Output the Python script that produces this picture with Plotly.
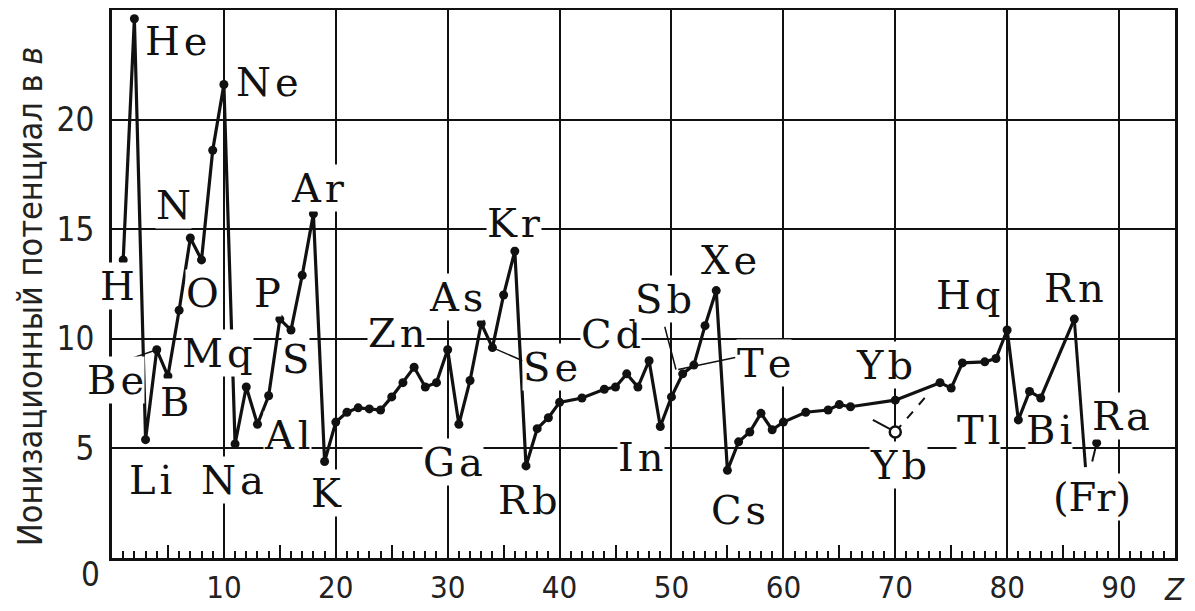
import plotly.graph_objects as go

# ---- data (first ionisation potential, volts) ----
Z = [1, 2, 3, 4, 5, 6, 7, 8, 9, 10,
     11, 12, 13, 14, 15, 16, 17, 18, 19, 20,
     21, 22, 23, 24, 25, 26, 27, 28, 29, 30,
     31, 32, 33, 34, 35, 36, 37, 38, 39, 40,
     42, 44, 45, 46, 47, 48, 49, 50, 51, 52,
     53, 54, 55, 56, 57, 58, 59, 60, 62, 64,
     65, 66, 70, 74, 75, 76, 78, 79, 80, 81,
     82, 83, 86]
IP = [13.6, 24.6, 5.4, 9.5, 8.3, 11.3, 14.6, 13.6, 18.6, 21.6,
      5.2, 7.8, 6.1, 7.4, 10.9, 10.4, 12.9, 15.7, 4.4, 6.2,
      6.65, 6.85, 6.8, 6.75, 7.35, 8.0, 8.7, 7.8, 8.0, 9.5,
      6.1, 8.1, 10.7, 9.6, 12.0, 14.0, 4.2, 5.9, 6.4, 7.1,
      7.3, 7.7, 7.8, 8.4, 7.8, 9.0, 6.0, 7.35, 8.4, 8.8,
      10.6, 12.2, 4.0, 5.3, 5.75, 6.6, 5.85, 6.2, 6.65, 6.75,
      7.0, 6.9, 7.2, 8.0, 7.75, 8.9, 8.95, 9.1, 10.4, 6.3,
      7.6, 7.3, 10.9]

FR_Z, FR_IP = 87, 4.15          # (Fr): line from Rn ends here, no dot
RA_Z, RA_IP = 88, 5.25          # Ra
RA_STUB = (87.6, 4.4)           # short stub below Ra
YB_ALT_Z, YB_ALT_IP = 70, 5.75  # Yb, alternative value (open circle)
YB_LEFT = (68, 6.3)             # solid arm to the open circle
YB_RIGHT = (72.8, 7.4)          # dashed arm from the open circle

X_TICKS = [10, 20, 30, 40, 50, 60, 70, 80, 90]
X_MID_TICKS = [5, 15, 25, 35, 45, 55, 65, 75, 85]
Y_TICKS = [0, 5, 10, 15, 20]
Y_TICKTEXT = ["", "5", "10", "15", "20"]   # "0" is set slightly below the axis, as in the original

HS = "\u200a"
LABELS = [
    ("He", 5.8, 23.6), ("Ne", 13.9, 21.7), ("N", 5.5, 16.1), ("Ar", 18.4, 16.9),
    ("H", 0.45, 12.4), ("O", 8.1, 12.1), ("P", 13.9, 12.1), ("Mq", 9.4, 9.35),
    ("S", 16.4, 9.1), ("Be", 0.3, 8.1), ("B", 5.6, 7.1), ("Al", 15.7, 5.6),
    ("Li", 3.4, 3.55), ("Na", 10.8, 3.55), ("K", 19.2, 2.95),
    ("Zn", 25.5, 10.25), ("As", 30.7, 11.9), ("Kr", 35.9, 15.3), ("Se", 39.2, 8.7),
    ("Ga", 30.5, 4.4), ("Rb", 37.2, 2.65), ("Cd", 44.6, 10.2), ("In", 47.3, 4.6),
    ("Sb", 49.3, 11.8), ("Xe", 55.1, 13.6), ("Te", 58.3, 8.9), ("Cs", 56.0, 2.2),
    ("Yb", 69.0, 8.8), ("Yb", 70.3, 4.25), ("Hq", 76.5, 12.0), ("Rn", 86.0, 12.3),
    ("Tl", 77.4, 5.85), ("Bi", 83.7, 5.85), ("Ra", 90.2, 6.5), ("(Fr)", 87.6, 2.8),
]
LEADERS = [
    ((1.4, 9.05), (4, 9.5)),      # Be
    ((34, 9.6), (36.7, 9.0)),     # Se
    ((49.4, 10.55), (50.4, 8.6)), # Sb
    ((50.6, 8.6), (55.7, 9.15)),  # Te
]

INK = "#111111"
SERIF = "DejaVu Serif, Liberation Serif, serif"
NARROW = "Liberation Sans Narrow, Arial Narrow, DejaVu Sans Condensed, Roboto, sans-serif"

fig = go.Figure()

for (x0, y0), (x1, y1) in LEADERS:
    fig.add_trace(go.Scatter(x=[x0, x1], y=[y0, y1], mode="lines",
                             line=dict(color=INK, width=1.5),
                             showlegend=False, hoverinfo="skip"))

fig.add_trace(go.Scatter(x=Z, y=IP, mode="lines+markers",
                         line=dict(color=INK, width=3.2),
                         marker=dict(color=INK, size=9),
                         showlegend=False))
fig.add_trace(go.Scatter(x=[Z[-1], FR_Z], y=[IP[-1], FR_IP], mode="lines",
                         line=dict(color=INK, width=3), showlegend=False))
fig.add_trace(go.Scatter(x=[RA_STUB[0], RA_Z], y=[RA_STUB[1], RA_IP], mode="lines",
                         line=dict(color=INK, width=2), showlegend=False))
fig.add_trace(go.Scatter(x=[RA_Z], y=[RA_IP], mode="markers",
                         marker=dict(color=INK, size=9), showlegend=False))
fig.add_trace(go.Scatter(x=[YB_LEFT[0], YB_ALT_Z], y=[YB_LEFT[1], YB_ALT_IP], mode="lines",
                         line=dict(color=INK, width=2), showlegend=False))
fig.add_trace(go.Scatter(x=[YB_ALT_Z, YB_RIGHT[0]], y=[YB_ALT_IP, YB_RIGHT[1]], mode="lines",
                         line=dict(color=INK, width=2, dash="dash"), showlegend=False))
fig.add_trace(go.Scatter(x=[YB_ALT_Z], y=[YB_ALT_IP], mode="markers",
                         marker=dict(color="white", size=11, symbol="circle",
                                     line=dict(color=INK, width=2.5)),
                         showlegend=False))
fig.add_trace(go.Scatter(x=[Z[0]], y=[IP[0]], mode="markers", xaxis="x2",
                         marker=dict(opacity=0), showlegend=False, hoverinfo="skip"))

annotations = []
for text, x, y in LABELS:
    annotations.append(dict(x=x, y=y, xref="x", yref="y",
                            text=HS.join(text) if text != "(Fr)" else text,
                            showarrow=False, font=dict(family=SERIF, size=40, color=INK),
                            bgcolor="white", borderpad=0, xanchor="center", yanchor="middle"))
annotations.append(dict(x=0, y=0.476, xref="paper", yref="paper", xshift=-82,
                        text="Ионизационный потенциал в <i>в</i>", textangle=-90,
                        showarrow=False, font=dict(family=NARROW, size=34, color="#222"),
                        xanchor="center", yanchor="middle"))
annotations.append(dict(x=1, y=0, xref="paper", yref="paper", xshift=12, yshift=-31,
                        text="<i>Z</i>", showarrow=False,
                        font=dict(family=NARROW, size=31, color="#222"),
                        xanchor="right", yanchor="middle"))
annotations.append(dict(x=0, y=Y_TICKS[0], xref="paper", yref="y", xshift=-10, yshift=-16,
                        text=str(Y_TICKS[0]), showarrow=False,
                        font=dict(family=NARROW, size=33, color="#222"),
                        xanchor="right", yanchor="middle"))

# page body has an 8px margin: figure is sized so plot area lands at x 112..1175, y 10..558
fig.update_layout(
    width=1179, height=595,
    margin=dict(l=104, r=12, t=2, b=45, autoexpand=False),
    paper_bgcolor="white", plot_bgcolor="white",
    annotations=annotations,
    xaxis=dict(range=[0, 95], tickvals=X_TICKS, ticktext=[str(v) for v in X_TICKS],
               automargin=False,
               showline=True, linewidth=3, linecolor=INK, mirror=True,
               ticks="inside", ticklen=13, tickwidth=1.5, tickcolor=INK,
               showgrid=True, gridcolor=INK, gridwidth=1.6, zeroline=False,
               tickfont=dict(family=NARROW, size=31, color="#222"),
               ticklabelstandoff=0,
               minor=dict(dtick=1, tick0=0, ticks="inside", ticklen=7, tickwidth=1.5,
                          tickcolor=INK, showgrid=False)),
    xaxis2=dict(overlaying="x", matches="x", side="bottom", tickvals=X_MID_TICKS,
                automargin=False,
                ticks="inside", ticklen=13, tickwidth=1.5, tickcolor=INK,
                showticklabels=False, showgrid=False, showline=False, zeroline=False),
    yaxis=dict(range=[0, 25], tickvals=Y_TICKS, ticktext=Y_TICKTEXT,
               automargin=False,
               showline=True, linewidth=3, linecolor=INK, mirror=True,
               ticks="", showgrid=True, gridcolor=INK, gridwidth=1.6, zeroline=False,
               tickfont=dict(family=NARROW, size=33, color="#222"),
               ticklabelstandoff=8),
)

fig.write_html("out.html")
